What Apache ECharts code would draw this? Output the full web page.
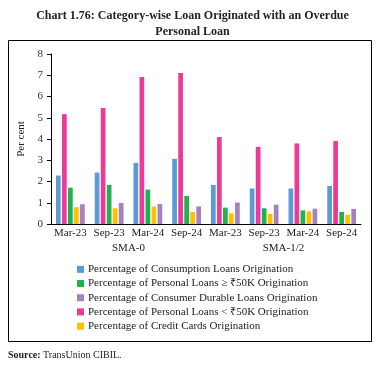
<!DOCTYPE html>
<html><head><meta charset="utf-8">
<script src="https://cdn.jsdelivr.net/npm/echarts@6/dist/echarts.min.js"></script>
<style>html,body{margin:0;padding:0;background:#fff}#c{width:385px;height:370px}</style>
</head><body><div id="c"></div>
<script>
const periods = ['Mar-23','Sep-23','Mar-24','Sep-24','Mar-23','Sep-23','Mar-24','Sep-24'];
const groups = ['SMA-0','SMA-1/2'];
const consumption = [2.28,2.42,2.88,3.07,1.84,1.67,1.67,1.79];
const plBelow50k = [5.17,5.46,6.92,7.11,4.09,3.63,3.79,3.90];
const plAbove50k = [1.71,1.84,1.62,1.32,0.77,0.74,0.64,0.57];
const creditCards = [0.79,0.74,0.82,0.57,0.50,0.47,0.60,0.44];
const consumerDurable = [0.93,0.99,0.94,0.83,1.01,0.91,0.72,0.71];
const yTicks = [0,1,2,3,4,5,6,7,8];

const names = {
  cons: 'Percentage of Consumption Loans Origination',
  plHi: 'Percentage of Personal Loans \u2265 \u20b950K Origination',
  cd: 'Percentage of Consumer Durable Loans Origination',
  plLo: 'Percentage of Personal Loans < \u20b950K Origination',
  cc: 'Percentage of Credit Cards Origination'
};
const font = 'Liberation Serif';
const chart = echarts.init(document.getElementById('c'), null, {renderer:'canvas'});
function bar(name, data, color){
  return {name, type:'bar', data, xAxisIndex:0, barWidth:4.7, barGap:'28%',
    itemStyle:{color}, emphasis:{disabled:true}};
}
chart.setOption({
  animation:false,
  textStyle:{fontFamily:font},
  title:{text:'Chart 1.76: Category-wise Loan Originated with an Overdue\nPersonal Loan',
    left:'center', top:3,
    textStyle:{fontFamily:font, fontSize:12, fontWeight:'bold', color:'#222', lineHeight:16}},
  grid:{left:51, right:24, top:54, bottom:146, containLabel:false},
  xAxis:[
    {type:'category', data:periods, position:'bottom',
     axisLine:{lineStyle:{color:'#000', width:1}},
     axisTick:{interval:0, length:15, lineStyle:{color:'#000'}},
     axisLabel:{interval:0, color:'#222', fontSize:11, margin:4, fontFamily:font}},
    {type:'category', data:groups, position:'bottom', offset:0,
     axisLine:{show:false},
     axisTick:{interval:0, length:31, lineStyle:{color:'#000'}},
     axisLabel:{interval:0, color:'#222', fontSize:11, margin:19, fontFamily:font}}
  ],
  yAxis:{type:'value', min:yTicks[0], max:yTicks[yTicks.length-1], interval:1,
    name:'Per cent', nameLocation:'middle', nameGap:23,
    nameTextStyle:{fontFamily:font, fontSize:11, color:'#222'},
    axisLine:{show:true, lineStyle:{color:'#000'}},
    axisTick:{show:true, length:4, lineStyle:{color:'#000'}},
    axisLabel:{color:'#333', fontSize:11, margin:8, fontFamily:font},
    splitLine:{show:false}},
  legend:{orient:'vertical', left:77, top:263, padding:0, itemWidth:7, itemHeight:7, itemGap:1.5,
    icon:'rect', textStyle:{fontFamily:font, fontSize:11, color:'#222', padding:[0,0,0,-1], lineHeight:12.7},
    data:[names.cons, names.plHi, names.cd, names.plLo, names.cc]},
  series:[
    bar(names.cons, consumption, '#5B9BD5'),
    bar(names.plLo, plBelow50k, '#EC3A96'),
    bar(names.plHi, plAbove50k, '#22B14C'),
    bar(names.cc, creditCards, '#FFC000'),
    bar(names.cd, consumerDurable, '#A581BF')
  ],
  graphic:[
    {type:'rect', shape:{x:8.5, y:40.5, width:363, height:301}, style:{fill:null, stroke:'#000', lineWidth:1}, silent:true},
    {type:'text', left:8, top:350, style:{text:'{b|Source:} TransUnion CIBIL.', font:'10px '+font, fill:'#222',
      rich:{b:{fontWeight:'bold', fontFamily:font, fontSize:10}}}, silent:true}
  ]
});
</script></body></html>
